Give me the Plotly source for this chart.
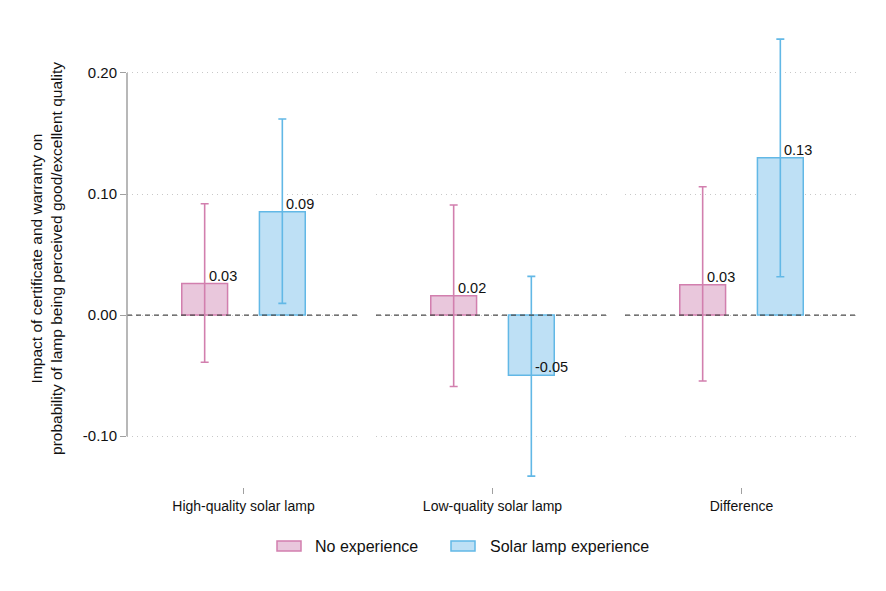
import plotly.graph_objects as go

categories = ["High-quality solar lamp", "Low-quality solar lamp", "Difference"]
series_names = ["No experience", "Solar lamp experience"]
no_exp_est = [0.026, 0.016, 0.025]
no_exp_lo = [-0.039, -0.059, -0.0545]
no_exp_hi = [0.092, 0.091, 0.106]
solar_est = [0.0854, -0.0496, 0.130]
solar_lo = [0.0097, -0.133, 0.0317]
solar_hi = [0.162, 0.032, 0.228]
label_no = ["0.03", "0.02", "0.03"]
label_solar = ["0.09", "-0.05", "0.13"]
y_ticks = [-0.10, 0.00, 0.10, 0.20]
y_ticktext = ["-0.10", "0.00", "0.10", "0.20"]

PINK_FILL = "#E9C7DC"
PINK_LINE = "#D27FAE"
BLUE_FILL = "#BEE0F5"
BLUE_LINE = "#62B8E6"
FONT = "Liberation Sans, Arial, sans-serif"

W, H = 886, 591
L, R, T, B = 127, 28, 30, 104
plot_w = W - L - R
plot_h = H - T - B
gap = 16
pw = (plot_w - 2 * gap) / 3


def px_x(p):
    return (p - L) / plot_w


def px_y(p):
    return (H - B - p) / plot_h


fig = go.Figure()
series = [
    (series_names[0], no_exp_est, no_exp_lo, no_exp_hi, PINK_FILL, PINK_LINE, -0.5, label_no),
    (series_names[1], solar_est, solar_lo, solar_hi, BLUE_FILL, BLUE_LINE, 0.5, label_solar),
]
annotations = []
shapes = []
for i, cat in enumerate(categories):
    xa = "x" if i == 0 else f"x{i+1}"
    ya = "y" if i == 0 else f"y{i+1}"
    for name, est, lo, hi, fill, line, pos, labs in series:
        fig.add_trace(go.Bar(
            x=[pos], y=[est[i]], width=0.59, name=name, xaxis=xa, yaxis=ya,
            marker=dict(color=fill, line=dict(color=line, width=1.5)),
            error_y=dict(type="data", symmetric=False,
                         array=[hi[i] - est[i]], arrayminus=[est[i] - lo[i]],
                         color=line, thickness=1.6, width=4),
            showlegend=False,
        ))
        annotations.append(dict(
            x=pos, y=est[i], xref=xa, yref=ya, text=labs[i], showarrow=False,
            xanchor="left", yanchor="bottom", xshift=2, yshift=-2,
            font=dict(family=FONT, size=14.5, color="#111"),
        ))
    shapes.append(dict(type="line", xref=f"{xa} domain", yref=ya, x0=0, x1=1, y0=0, y1=0,
                       line=dict(color="#4A4A4A", width=1.4, dash="5px,4px"), layer="above"))

# y axis line spanning the tick range
shapes.append(dict(type="line", xref="x domain", yref="y", x0=0, x1=0, y0=-0.10, y1=0.20,
                   line=dict(color="#A0A0A0", width=1.5), layer="above"))

# legend (drawn manually to match the wide Stata keys)
legend_items = [
    (series_names[0], PINK_FILL, PINK_LINE, 277, 301, 313),
    (series_names[1], BLUE_FILL, BLUE_LINE, 451, 475, 488),
]
for name, fill, line, bx0, bx1, tx in legend_items:
    shapes.append(dict(type="rect", xref="paper", yref="paper",
                       x0=px_x(bx0), x1=px_x(bx1), y0=px_y(551), y1=px_y(541),
                       fillcolor=fill, line=dict(color=line, width=1.5)))
    annotations.append(dict(x=px_x(tx), y=px_y(546), xref="paper", yref="paper",
                            text=name, showarrow=False, xanchor="left", yanchor="middle",
                            font=dict(family=FONT, size=16, color="#111")))

layout = dict(
    width=W, height=H,
    margin=dict(l=L, r=R, t=T, b=B),
    paper_bgcolor="white", plot_bgcolor="white",
    font=dict(family=FONT, size=14, color="#111"),
    barmode="overlay",
    showlegend=False,
    annotations=annotations, shapes=shapes,
)
yrange = [-0.142, 0.2355]
for i, cat in enumerate(categories):
    x0 = (i * (pw + gap)) / plot_w
    x1 = (i * (pw + gap) + pw) / plot_w
    kx = "xaxis" if i == 0 else f"xaxis{i+1}"
    ky = "yaxis" if i == 0 else f"yaxis{i+1}"
    layout[kx] = dict(domain=[max(0, x0), min(1, x1)], range=[-1.5, 1.5],
                      anchor="y" if i == 0 else f"y{i+1}",
                      tickvals=[0], ticktext=[cat], ticks="outside", ticklen=6,
                      tickcolor="#A0A0A0", tickwidth=1, showline=False, showgrid=False,
                      zeroline=False, tickfont=dict(size=14), fixedrange=True)
    yax = dict(range=yrange, anchor="x" if i == 0 else f"x{i+1}",
               tickvals=y_ticks, ticktext=y_ticktext,
               showgrid=True, gridcolor="#C8C8C8", griddash="1px,4px", gridwidth=1.2,
               zeroline=False, showline=False)
    if i == 0:
        yax.update(ticks="outside", ticklen=6, tickcolor="#A0A0A0", tickwidth=1.3,
                   tickfont=dict(size=15),
                   title=dict(text="Impact of certificate and warranty on<br>probability of lamp being perceived good/excellent quality",
                              font=dict(size=15.5), standoff=16))
    else:
        yax.update(matches="y", showticklabels=False, ticks="")
    layout[ky] = yax

fig.update_layout(**layout)
fig.write_html("out.html")
